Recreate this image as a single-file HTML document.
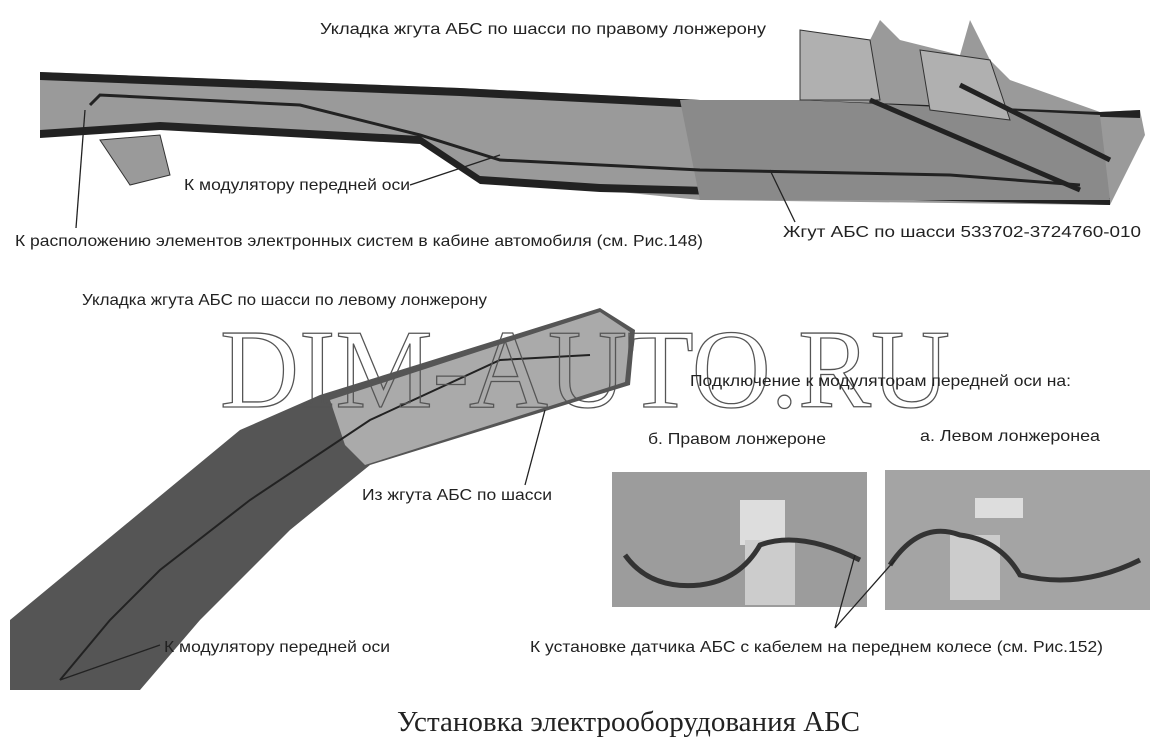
<!DOCTYPE html>
<html><head><meta charset="utf-8"><style>
html,body{margin:0;padding:0;background:#fff}
svg{display:block}
text{font-family:"Liberation Sans",sans-serif;fill:#222}
</style></head><body>
<svg width="1169" height="738" viewBox="0 0 1169 738" xmlns="http://www.w3.org/2000/svg">
<!-- Top beam -->
<polygon points="40,72 460,88 700,100 800,100 800,30 870,40 880,20 900,40 960,55 970,20 990,60 1010,80 1100,112 1140,110 1145,135 1120,185 1110,205 700,200 600,190 480,180 420,140 250,130 160,128 40,135" fill="#9a9a9a"/>
<polygon points="40,72 460,88 700,100 800,100 1100,112 1140,110 1140,118 800,108 700,108 460,96 40,80" fill="#222"/>
<polygon points="40,130 160,122 420,136 480,176 600,184 1110,198 1110,205 600,192 480,184 420,144 160,130 40,138" fill="#222"/>
<polygon points="680,100 800,100 1100,115 1110,200 700,200" fill="#8a8a8a"/>
<polygon points="800,30 870,40 880,100 800,100" fill="#b0b0b0" stroke="#333"/>
<polygon points="920,50 990,60 1010,120 930,110" fill="#b0b0b0" stroke="#333"/>
<line x1="870" y1="100" x2="1080" y2="190" stroke="#222" stroke-width="5"/>
<line x1="960" y1="85" x2="1110" y2="160" stroke="#222" stroke-width="5"/>
<polyline points="90,105 100,95 300,105 420,135 500,160 700,170 950,175 1080,185" fill="none" stroke="#222" stroke-width="3"/>
<polygon points="100,140 160,135 170,175 130,185" fill="#9a9a9a" stroke="#333"/>
<!-- Left bottom beam -->
<polygon points="10,690 10,620 240,430 320,395 600,308 635,330 630,385 370,465 290,530 200,620 140,690" fill="#555"/>
<polygon points="330,400 600,312 630,332 625,382 365,465 345,445" fill="#aaa"/>
<polyline points="60,680 110,620 160,570 250,500 370,420 500,360 590,355" fill="none" stroke="#222" stroke-width="2"/>
<!-- Photo boxes -->
<rect x="612" y="472" width="255" height="135" fill="#9c9c9c"/>
<rect x="885" y="470" width="265" height="140" fill="#a4a4a4"/>
<rect x="740" y="500" width="45" height="45" fill="#ddd"/>
<rect x="975" y="498" width="48" height="20" fill="#ddd"/>
<rect x="745" y="540" width="50" height="65" fill="#ccc"/>
<rect x="950" y="535" width="50" height="65" fill="#ccc"/>
<path d="M625,555 Q650,590 700,585 Q740,580 760,545 Q800,530 860,560" fill="none" stroke="#333" stroke-width="5"/>
<path d="M890,565 Q920,520 960,535 Q1000,540 1020,575 Q1080,590 1140,560" fill="none" stroke="#333" stroke-width="5"/>
<!-- leaders -->
<g stroke="#222" stroke-width="1.3" fill="none">
<line x1="85" y1="110" x2="76" y2="228"/>
<line x1="410" y1="185" x2="500" y2="155"/>
<line x1="770" y1="170" x2="795" y2="222"/>
<line x1="545" y1="410" x2="525" y2="485"/>
<line x1="160" y1="645" x2="60" y2="680"/>
<line x1="835" y1="628" x2="855" y2="555"/>
<line x1="835" y1="628" x2="895" y2="560"/>
</g>
<!-- watermark -->
<text x="220" y="407" font-size="112" fill="none" stroke="#555" stroke-width="1.3" textLength="730" lengthAdjust="spacingAndGlyphs" style="font-family:'Liberation Serif',serif;fill:none">DIM-AUTO.RU</text>
<!-- labels -->
<g font-size="16" lengthAdjust="spacingAndGlyphs">
<text x="320" y="34" textLength="446" lengthAdjust="spacingAndGlyphs">Укладка жгута АБС по шасси по правому лонжерону</text>
<text x="184" y="190" textLength="226" lengthAdjust="spacingAndGlyphs">К модулятору передней оси</text>
<text x="15" y="246" textLength="688" lengthAdjust="spacingAndGlyphs">К расположению элементов электронных систем в кабине автомобиля (см. Рис.148)</text>
<text x="783" y="237" textLength="358" lengthAdjust="spacingAndGlyphs">Жгут АБС по шасси 533702-3724760-010</text>
<text x="82" y="305" textLength="405" lengthAdjust="spacingAndGlyphs">Укладка жгута АБС по шасси по левому лонжерону</text>
<text x="690" y="386" textLength="381" lengthAdjust="spacingAndGlyphs">Подключение к модуляторам передней оси на:</text>
<text x="648" y="444" textLength="178" lengthAdjust="spacingAndGlyphs">б. Правом лонжероне</text>
<text x="920" y="441" textLength="180" lengthAdjust="spacingAndGlyphs">а. Левом лонжеронеа</text>
<text x="362" y="500" textLength="190" lengthAdjust="spacingAndGlyphs">Из жгута АБС по шасси</text>
<text x="164" y="652" textLength="226" lengthAdjust="spacingAndGlyphs">К модулятору передней оси</text>
<text x="530" y="652" textLength="573" lengthAdjust="spacingAndGlyphs">К установке датчика АБС с кабелем на переднем колесе (см. Рис.152)</text>
</g>
<text x="397" y="731" font-size="28" textLength="463" lengthAdjust="spacingAndGlyphs" style="font-family:'Liberation Serif',serif">Установка электрооборудования АБС</text>
</svg>
</body></html>
